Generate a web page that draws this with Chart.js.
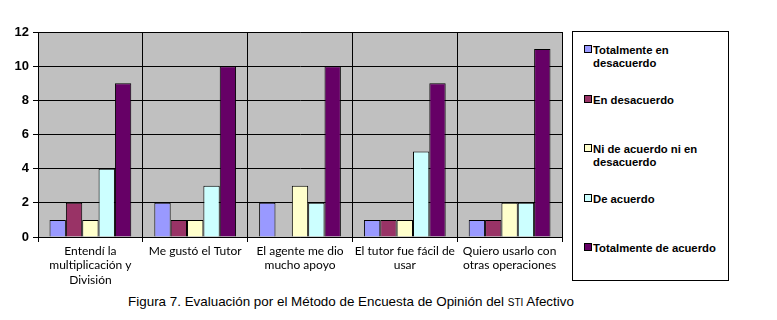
<!DOCTYPE html>
<html>
<head>
<meta charset="utf-8">
<script src="https://cdn.jsdelivr.net/npm/chart.js@4"></script>
<style>
  body { margin: 0; background: #fff; width: 777px; height: 320px; position: relative; overflow: hidden; }
  #wrap { position: absolute; left: 0; top: 0; width: 566px; height: 291px; }
  #legend { position: absolute; left: 572px; top: 31px; width: 155px; height: 248px; border: 1px solid #000; }
  .item { position: absolute; left: 11px; font: bold 11.3px "Liberation Sans", Arial, sans-serif; color: #000; line-height: 13px; }
  .sw { display: inline-block; width: 6px; height: 6px; border: 1px solid #000; margin-right: 1px; vertical-align: 1px; }
  .txt { display: inline-block; vertical-align: top; }
  #caption { position: absolute; left: 0; width: 702px; top: 294px; text-align: center; font: 13.4px "Liberation Sans", Arial, sans-serif; color: #000; }
  .sc { font-size: 10px; }
</style>
</head>
<body>
<div id="wrap"><canvas id="chart"></canvas></div>
<div id="legend"></div>
<div id="caption">Figura 7. Evaluación por el Método de Encuesta de Opinión del <span class="sc">STI</span> Afectivo</div>
<script>
// categorías (eje x)
const categorias = [
    ['Entendí la', 'multiplicación y', 'División'],
    ['Me gustó el Tutor'],
    ['El agente me dio', 'mucho apoyo'],
    ['El tutor fue fácil de', 'usar'],
    ['Quiero usarlo con', 'otras operaciones']
];

const series = [
    ['Totalmente en', 'desacuerdo'],
    ['En desacuerdo'],
    ['Ni de acuerdo ni en', 'desacuerdo'],
    ['De acuerdo'],
    ['Totalmente de acuerdo']
];

const totalDesacuerdo = [1, 2, 2, 1, 1];
const enDesacuerdo = [2, 1, 0, 1, 1];
const neutral = [1, 1, 3, 1, 2];
const deAcuerdo = [4, 3, 2, 5, 2];
const totalAcuerdo = [9, 10, 10, 9, 11];

const yTicks = [0, 2, 4, 6, 8, 10, 12];

const colores = ['#9999FF', '#993366', '#FFFFCC', '#CCFFFF', '#660066'];
const valores = [totalDesacuerdo, enDesacuerdo, neutral, deAcuerdo, totalAcuerdo];

// fondo gris del área de trazado
const fondoPlot = {
    id: 'fondoPlot',
    beforeDraw(chart) {
        const a = chart.chartArea;
        const c = chart.ctx;
        c.save();
        c.fillStyle = '#C0C0C0';
        c.fillRect(a.left, a.top, a.right - a.left, a.bottom - a.top);
        c.strokeStyle = '#808080';
        c.lineWidth = 1;
        c.beginPath();
        c.moveTo(a.left, a.top + 0.5);
        c.lineTo(a.right, a.top + 0.5);
        c.stroke();
        c.restore();
    }
};

new Chart(document.getElementById('chart'), {
    type: 'bar',
    data: {
        labels: categorias,
        datasets: valores.map((v, i) => ({
            label: series[i].join(' '),
            data: v,
            backgroundColor: colores[i],
            borderColor: '#000',
            borderWidth: 1,
            categoryPercentage: 0.78,
            barPercentage: 1
        }))
    },
    options: {
        responsive: true,
        maintainAspectRatio: false,
        animation: false,
        layout: { padding: { top: 32, right: 4, left: 0, bottom: 0 } },
        plugins: {
            legend: { display: false },
            tooltip: { enabled: false }
        },
        scales: {
            x: {
                grid: { color: '#000', lineWidth: 1, offset: true, tickLength: 5, drawOnChartArea: true },
                border: { color: '#000' },
                ticks: {
                    color: '#000',
                    font: { family: 'Lato, "Open Sans", sans-serif', size: 12 },
                    maxRotation: 0,
                    autoSkip: false,
                    padding: 2
                },
                afterFit(scale) { scale.height = 54; }
            },
            y: {
                min: 0,
                max: 12,
                afterBuildTicks(scale) { scale.ticks = yTicks.map(v => ({ value: v })); },
                grid: { color: '#000', lineWidth: 1, tickLength: 5 },
                border: { color: '#000' },
                ticks: {
                    color: '#000',
                    font: { family: '"Liberation Sans", Arial, sans-serif', size: 13, weight: 'bold' },
                    padding: 4
                },
                afterFit(scale) { scale.width = 38; }
            }
        }
    },
    plugins: [fondoPlot]
});

// leyenda a mano
const legend = document.getElementById('legend');
series.forEach((nombre, i) => {
    const d = document.createElement('div');
    d.className = 'item';
    d.style.top = (12 + i * 49.5) + 'px';
    d.innerHTML = '<span class="sw" style="background:' + colores[i] + '"></span><span class="txt">' + nombre.join('<br>') + '</span>';
    legend.appendChild(d);
});
</script>
</body>
</html>
